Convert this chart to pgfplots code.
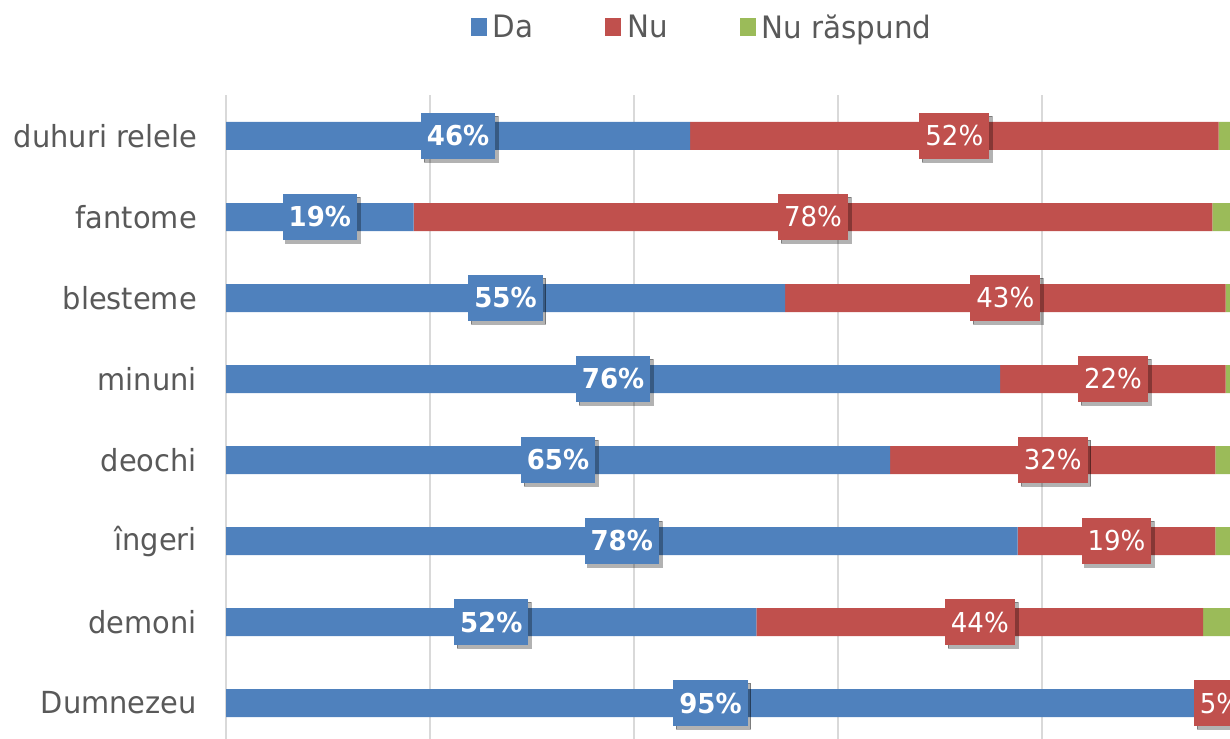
\documentclass[border=0pt]{standalone}
\usepackage{fontspec}
\setmainfont{DejaVu Sans}[FakeStretch=0.95]
\usepackage{pgfplots}
\usepackage{pgfplotstable}
\pgfplotsset{compat=1.18}
\usetikzlibrary{shadows}
\definecolor{cda}{HTML}{4F81BD}
\definecolor{cnu}{HTML}{C0504D}
\definecolor{cnr}{HTML}{9BBB59}
\definecolor{cgrid}{HTML}{D9D9D9}
\definecolor{ctext}{HTML}{595959}

\pgfplotstableread{
pos Da Nu NR DaL NuL
0 95.0 5.0 0.0 95 5
1 52.0 43.8 4.2 52 44
2 77.6 19.4 3.0 78 19
3 65.1 31.9 3.0 65 32
4 75.9 22.1 2.0 76 22
5 54.8 43.2 2.0 55 43
6 18.4 78.3 3.3 19 78
7 45.5 51.8 2.7 46 52
}\data

\begin{document}
\begin{tikzpicture}
\useasboundingbox (0bp,0bp) rectangle (1230bp,739bp);
\pgfplotsset{
 common/.style={at={(226bp,0bp)}, anchor=south west, scale only axis,
   width=1004bp, height=643.5bp, xmin=0, xmax=98.43, ymin=-0.444, ymax=7.5},
 lab/.style={only marks, mark=*, mark size=0pt, mark options={draw=none,fill=none},
   point meta=explicit, nodes near coords align=center,
   nodes near coords={\pgfmathprintnumber[fixed,precision=0,assume math mode=true]{\pgfplotspointmeta}\%},
   every node near coord/.append style={anchor=center, text=white,
     minimum height=46bp, inner xsep=6bp, inner ysep=0pt,
     drop shadow={shadow xshift=3bp, shadow yshift=-3bp, fill=black, opacity=0.3}}}
}
\begin{axis}[common, xbar stacked, bar width=28bp,
  axis line style={draw=none}, major tick length=0pt,
  xtick={0,20,40,60,80}, xticklabel=\empty,
  xmajorgrids, grid style={cgrid, line width=1.5bp},
  ytick={0,...,7},
  yticklabels={Dumnezeu, demoni, îngeri, deochi, minuni, blesteme, fantome, duhuri relele},
  yticklabel style={font=\fontsize{30.5}{31}\selectfont, text=ctext, inner sep=0pt, anchor=east, xshift=-29bp},
  legend style={at={(0.474,1.1065)}, anchor=center, draw=none, fill=none,
    font=\fontsize{31}{31}\selectfont, text=ctext,
    /tikz/every odd column/.append style={column sep=4bp},
    /tikz/every even column/.append style={column sep=70bp}},
  legend columns=3, legend cell align=left,
  legend image code/.code={\fill[#1] (0bp,-9bp) rectangle (16bp,9bp);},
]
\addplot[fill=cda, draw=none] table[x=Da, y=pos]{\data};
\addlegendentry{Da}
\addplot[fill=cnu, draw=none] table[x=Nu, y=pos]{\data};
\addlegendentry{Nu}
\addplot[fill=cnr, draw=none] table[x=NR, y=pos]{\data};
\addlegendentry{Nu răspund}
\end{axis}
\begin{axis}[common, hide axis, clip=false]
\addplot[lab, every node near coord/.append style={fill=cda, font=\bfseries\fontsize{27.5}{28}\selectfont}]
  table[x expr=\thisrow{Da}/2, y=pos, meta=DaL]{\data};
\addplot[lab, every node near coord/.append style={fill=cnu, font=\fontsize{27.5}{28}\selectfont}]
  table[x expr=\thisrow{Da}+\thisrow{Nu}/2, y=pos, meta=NuL]{\data};
\end{axis}
\end{tikzpicture}
\end{document}
